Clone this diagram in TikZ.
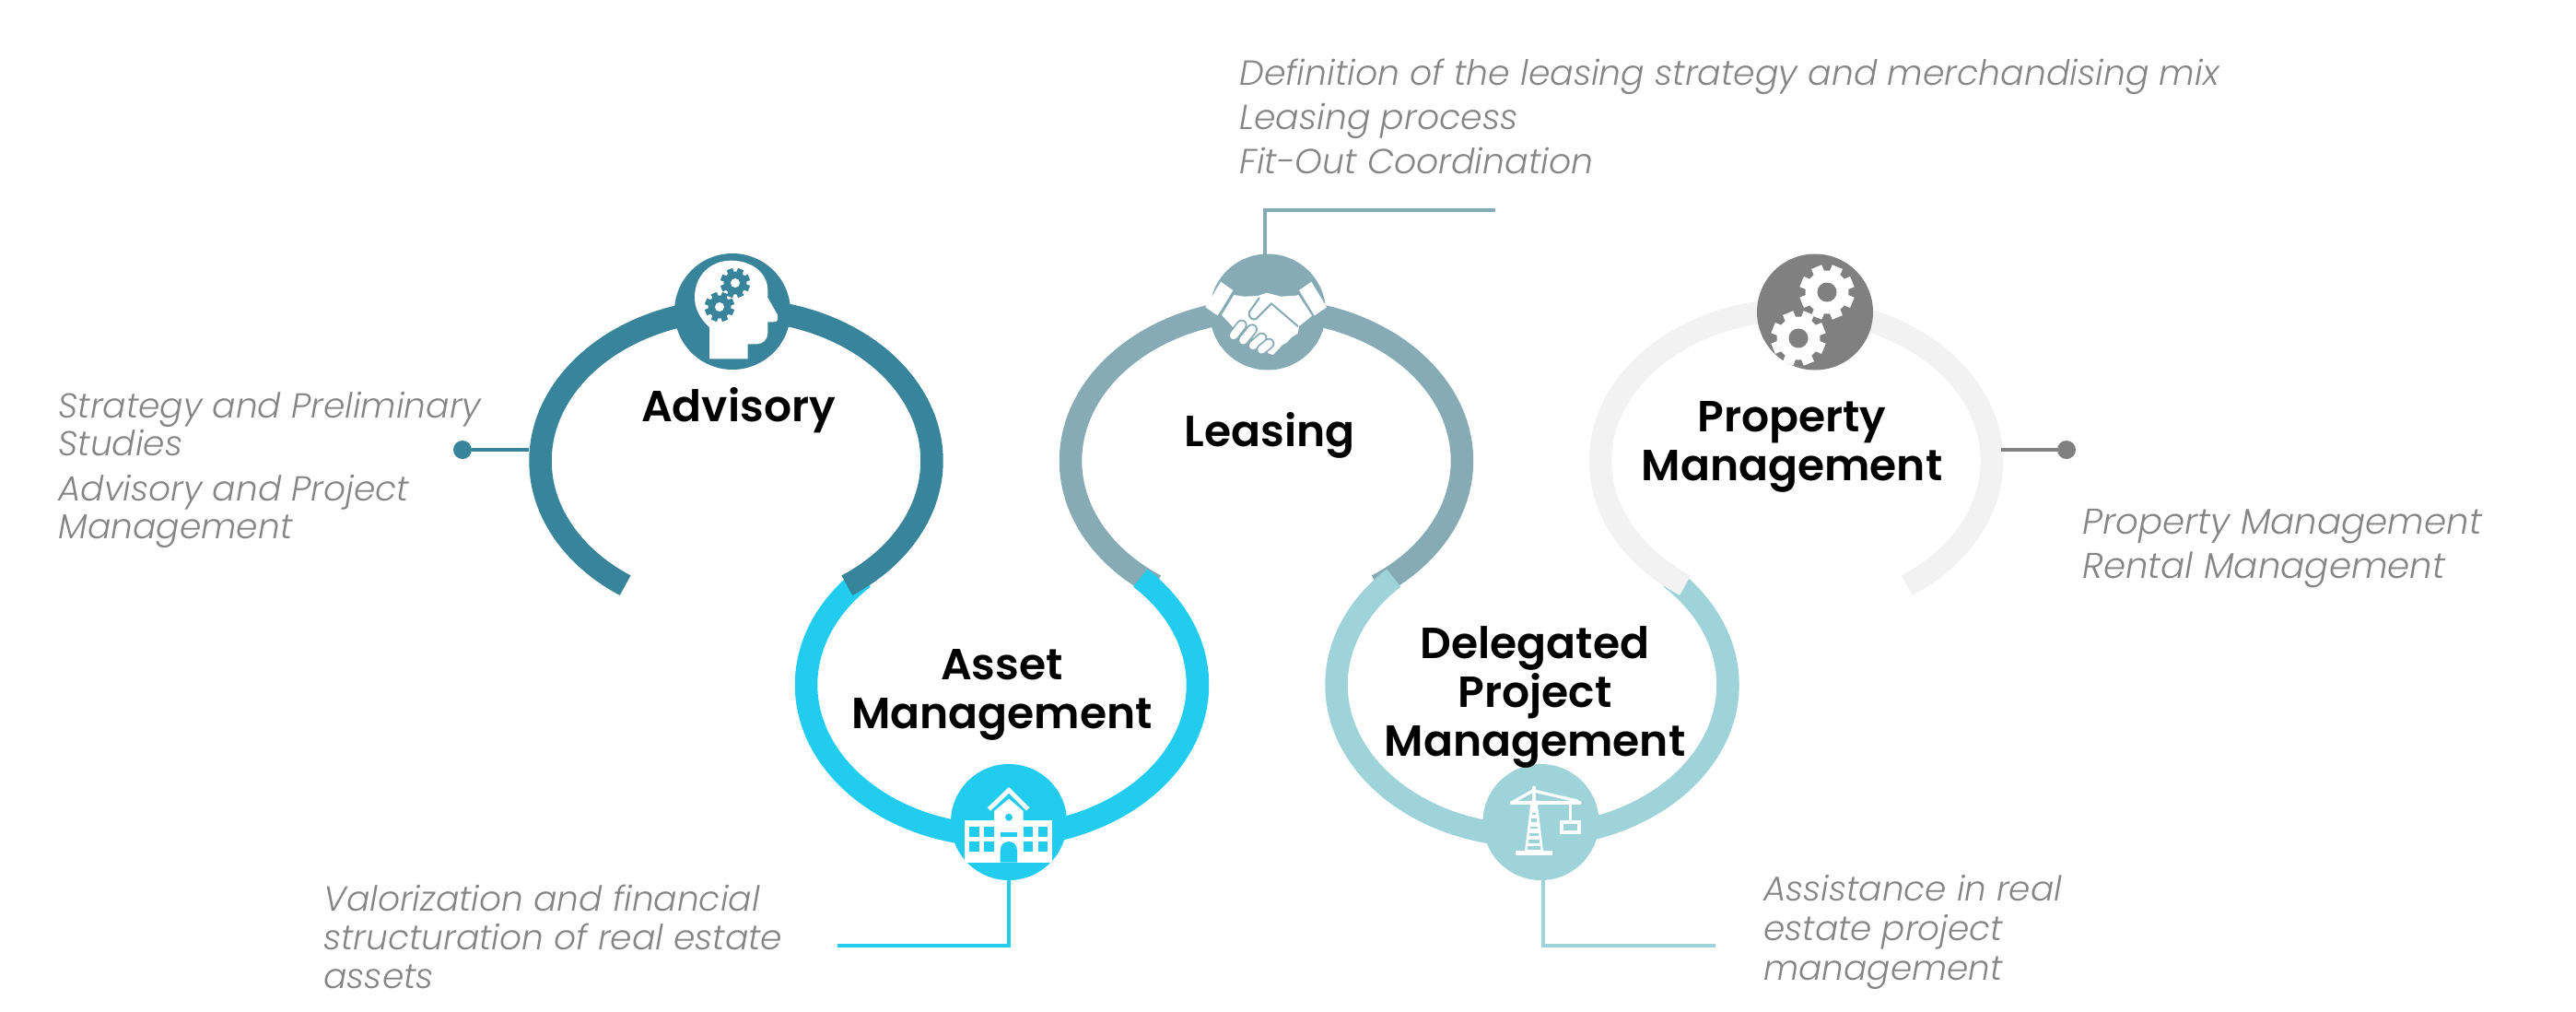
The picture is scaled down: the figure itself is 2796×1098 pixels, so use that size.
\documentclass[tikz,border=0pt]{standalone}
\usepackage{fontspec}
\setmainfont{Poppins}
\newfontfamily\descfam{Poppins Light}[ItalicFont={Poppins Light Italic}]
\newfontfamily\headfam{Poppins SemiBold}
\definecolor{advc}{HTML}{38849B}
\definecolor{leac}{HTML}{86ABB5}
\definecolor{astc}{HTML}{22CCEE}
\definecolor{delc}{HTML}{9ED3D9}
\definecolor{proc}{HTML}{F2F2F2}
\definecolor{prod}{HTML}{808080}
\definecolor{descc}{HTML}{858585}
\tikzset{
  ringline/.style={line width=12.25pt,line join=round},
  hub/.style={circle,minimum size=63pt,inner sep=0pt,outer sep=0pt},
  dotnode/.style={circle,minimum size=10pt,inner sep=0pt,outer sep=0pt},
  lead/.style={line width=1.6pt},
  head/.style={align=center,inner sep=0pt,text=black,anchor=base,font=\headfam\fontsize{23.6}{26.5}\selectfont},
  desc/.style={align=left,inner sep=0pt,text=descc,anchor=base west,font=\descfam\itshape\fontsize{18.8}{20.5}\selectfont},
}
% ring: colour, centre x, centre y, start and end of the parameter
\newcommand\ringarc[5]{\draw[ringline,#1] plot[domain=#4:#5,samples=140] ({#2+212.5*cos(\x)},{#3-164*sin(\x)});}
% gear: centre x, y, outer radius, body radius, hole radius, gear colour, hole colour
\newcommand\cogicon[7]{%
  \foreach \a in {0,45,...,315}{\fill[#6,rotate around={\a+22.5:(#1,#2)}] ({#1-#3*0.2},{#2-#3}) rectangle ({#1+#3*0.2},{#2+#3});}
  \fill[#6] (#1,#2) circle (#4);
  \fill[#7] (#1,#2) circle (#5);}
\begin{document}
\begin{tikzpicture}[x=0.5pt,y=-0.5pt]
\useasboundingbox (0,0) rectangle (2796,1098);
% rings, lowest first
\ringarc{leac}{1374.5}{500}{235.5}{-55.5}
\ringarc{delc}{1663}{743}{135}{405}
\ringarc{astc}{1087.5}{743}{135}{405}
\ringarc{advc}{799}{500}{235.5}{-55.5}
\ringarc{proc}{1949.5}{500}{235.5}{-55.5}
% connector ends
\coordinate (advEnd) at (574,488);
\coordinate (proEnd) at (2172,488);
\coordinate (leaFree) at (1623,228);
\coordinate (leaCorner) at (1373,228);
\coordinate (astFree) at (909,1026);
\coordinate (astCorner) at (1095,1026);
\coordinate (delFree) at (1862,1026);
\coordinate (delCorner) at (1675,1026);
% hubs
\node[hub,fill=advc] (advHub) at (795,338) {};
\node[hub,fill=leac] (leaHub) at (1376,338.5) {};
\node[hub,fill=prod] (proHub) at (1970,338.5) {};
\node[hub,fill=astc] (astHub) at (1095,892) {};
\node[hub,fill=delc] (delHub) at (1672.5,892) {};
\node[dotnode,fill=advc] (advDot) at (502,488) {};
\node[dotnode,fill=prod] (proDot) at (2243,488) {};
% connectors
\draw[lead,advc] (advDot) -- (advEnd);
\draw[lead,prod] (proDot) -- (proEnd);
\draw[lead,leac] (leaFree) -- (leaCorner) -- (leaCorner |- leaHub.north);
\draw[lead,astc] (astFree) -- (astCorner) -- (astHub.south);
\draw[lead,delc] (delFree) -- (delCorner) -- (delCorner |- delHub.south);
% head with cogs
\fill[white] (770,389.3) -- (770,355) .. controls (760,346) and (754,335) .. (754,322.7)
  .. controls (754,298) and (772,282.7) .. (793.3,282.7)
  .. controls (816,282.7) and (833.3,296) .. (833.3,315) -- (833.3,322.7) -- (844,341.7) -- (844,346.7)
  .. controls (844,348.5) and (842,349.3) .. (840,349.3) -- (833.3,349.3) -- (833.3,361.7)
  .. controls (833.3,368) and (828,373.3) .. (821.7,373.3) -- (811.7,373.3) -- (811.7,389.3) -- cycle;
\cogicon{798}{307}{16}{12.5}{5}{advc}{white}
\cogicon{781}{333}{16}{12.5}{5}{advc}{white}
% gears of Property Management
\cogicon{1983}{317}{29.5}{23.5}{10.5}{white}{prod}
\cogicon{1952}{367}{29.5}{23.5}{10.5}{white}{prod}
% handshake
\begin{scope}[shift={(1250,240)},x=0.1667pt,y=-0.1667pt]
\fill[white] (225,197) -- (265,225) -- (215,307) -- (175,280) -- cycle;
\fill[white] (520,197) -- (480,225) -- (530,307) -- (570,280) -- cycle;
\fill[white] (268,240) -- (300,245) -- (345,243) -- (375,233) -- (420,245) -- (470,242) -- (478,240) -- (522,308) -- (480,342) -- (476,365) -- (455,378) -- (440,395) -- (425,403) -- (410,420) -- (395,435) -- (380,430) -- (360,400) -- (265,345) -- (228,305) -- cycle;
\draw[leac,line width=1pt,line cap=round,line join=round,fill=white] (390,268) -- (340,318) .. controls (330,325) and (312,312) .. (318,295) -- (350,250);
\draw[leac,line width=1pt,line cap=round] (390,268) -- (476,342);
\foreach \p/\q in {{267,372}/{293,338},{298,388}/{327,352},{330,405}/{358,380},{358,418}/{382,398}}{
  \draw[leac,line width=6pt,line cap=round] (\p) -- (\q);
  \draw[white,line width=4.2pt,line cap=round] (\p) -- (\q);}
\end{scope}
% school
\begin{scope}[shift={(1000,800)},x=0.1667pt,y=-0.1667pt]
\fill[white] (141,271) rectangle (427,407);
\fill[white] (237,271) -- (237,240) -- (285,200) -- (332,240) -- (332,271) -- cycle;
\draw[white,line width=2.4pt] (220,234) -- (285,172) -- (347,234);
\fill[astc] (285,260) circle (12);
\foreach \wx in {157,205,332,380}{\foreach \wy in {292,340}{\fill[astc] (\wx,\wy) rectangle (\wx+32,\wy+32);}}
\fill[astc] (257,308) rectangle (312,323);
\fill[astc] (257,407) -- (257,367) .. controls (257,330) and (312,330) .. (312,367) -- (312,407) -- cycle;
\end{scope}
% crane
\begin{scope}[shift={(1560,800)},x=0.1667pt,y=-0.1667pt]
\fill[white] (255,368) rectangle (375,385);
\fill[white] (285,370) -- (305,205) -- (325,205) -- (345,370) -- cycle;
\foreach \ya/\yb/\wd in {355/365/21,333/345/19,312/322/15,290/298/11,265/275/8,245/252/5}{\fill[delc] ({315-\wd},\ya) rectangle ({315+\wd},\yb);}
\draw[white,line width=2.2pt,line cap=round] (243,213) -- (463,213);
\draw[white,line width=2.4pt,line cap=round] (315,165) -- (315,210);
\draw[white,line width=1.6pt] (315,172) -- (245,211);
\draw[white,line width=1.6pt] (315,174) -- (460,208);
\draw[white,line width=1.4pt] (434,215) -- (434,272);
\draw[white,line width=2pt] (405,275) rectangle (463,310);
\end{scope}
% titles
\node[head] (advT) at (801.5,457) {Advisory};
\node[head] (leaT) at (1378,484) {Leasing};
\node[head] (astT) at (1087.5,790) {Asset\\Management};
\node[head] (delT) at (1666,820) {Delegated\\Project\\Management};
\node[head] (proT) at (1945,521) {Property\\Management};
% descriptions
\node[desc] (advD) at (63,584) {Strategy and Preliminary\\Studies\\[4pt]Advisory and Project\\Management};
\node[desc,font=\descfam\itshape\fontsize{18.9}{24}\selectfont] (leaD) at (1345,188) {Definition of the leasing strategy and merchandising mix\\Leasing process\\Fit-Out Coordination};
\node[desc,font=\descfam\itshape\fontsize{19.4}{24}\selectfont] (proD) at (2260,627) {Property Management\\Rental Management};
\node[desc,font=\descfam\itshape\fontsize{18.8}{21}\selectfont] (astD) at (351,1072) {Valorization and financial\\structuration of real estate\\assets};
\node[desc,font=\descfam\itshape\fontsize{18.7}{21.5}\selectfont] (delD) at (1914,1063) {Assistance in real\\estate project\\management};
\end{tikzpicture}
\end{document}
